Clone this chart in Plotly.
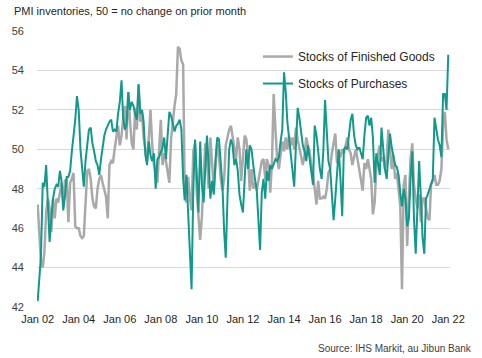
import pandas as pd
import plotly.graph_objects as go

start_month = "2002-01-01"

finished_goods = [
    47.2, 45.8, 44.3, 44.0, 44.8, 46.8, 47.5, 47.0, 45.8, 47.5, 46.5, 47.5,
    47.3, 47.8, 48.3, 47.3, 48.4, 48.5, 46.3, 48.3, 48.5, 48.8, 46.1, 46.0,
    46.0, 45.6, 45.5, 45.6, 47.5, 48.9, 49.0, 48.5, 47.5, 47.1, 47.0, 48.0,
    48.5, 48.7, 48.3, 48.0, 47.6, 46.5, 49.2, 49.4, 49.3, 50.0, 50.6, 51.2,
    50.2, 50.7, 51.5, 52.2, 50.5, 52.9, 51.5, 50.3, 50.0, 52.1, 51.0, 53.3,
    51.4, 51.8, 50.6, 49.9, 49.4, 50.6, 52.0, 50.2, 49.2, 48.8, 48.3, 49.9,
    51.5, 49.2, 49.8, 49.4, 48.9, 48.3, 50.5, 51.5, 52.2, 52.8, 55.2, 55.1,
    54.5, 54.3, 48.0, 47.3, 48.6, 47.5, 46.9, 49.9, 50.3, 47.8, 46.5, 45.4,
    46.6, 48.9, 50.3, 49.5, 48.0, 50.6, 49.0, 48.0, 49.2, 50.3, 49.7, 48.5,
    47.9, 48.5, 50.2, 50.6, 51.0, 51.2, 50.7, 50.0, 49.5, 50.6, 50.0, 48.4,
    49.5, 50.7, 50.5, 49.6, 47.9, 49.0, 48.0, 48.3, 47.9, 48.5, 48.9, 49.4,
    49.5, 48.5, 49.5, 49.2, 47.8, 49.4, 52.8, 51.0, 49.5, 49.0, 49.9, 50.4,
    49.9, 50.6, 50.0, 50.7, 50.2, 50.6, 50.0, 51.1, 50.5, 50.0, 49.5, 49.2,
    49.7, 50.6, 50.2, 49.9, 49.2, 48.7, 48.0, 47.2, 48.4, 47.5, 47.5, 47.6,
    47.5, 48.0, 48.8, 49.0, 49.8, 50.3, 50.8, 49.3, 49.9, 49.6, 50.0, 49.8,
    50.3, 50.6, 50.0, 49.8, 49.2, 49.6, 50.0, 49.5, 49.0, 48.5, 47.9, 49.3,
    49.0, 49.5, 49.1, 48.5, 46.7, 47.3, 49.0, 49.8, 50.2, 49.4, 49.6, 49.0,
    49.5, 51.0, 50.0, 49.0, 49.7, 48.5, 48.8, 48.0, 47.1, 42.9, 48.2, 48.7,
    45.1, 47.5, 49.5, 50.3, 48.2, 47.5, 47.0, 47.7, 46.3, 47.5, 47.5, 47.0,
    46.5, 46.4, 48.2, 48.4, 48.7, 48.2, 48.2, 48.4, 49.0, 51.2, 51.9, 50.5,
    50.0,
]

purchases = [
    42.3, 43.4, 44.6, 48.3, 48.1, 49.2, 47.6, 45.3, 46.5, 47.5, 48.0, 48.2,
    48.1, 48.9, 48.4, 46.9, 47.6, 48.6, 48.6, 48.9, 49.9, 50.6, 51.5, 52.7,
    52.0, 50.0, 49.2, 48.1, 49.4, 50.3, 51.0, 51.1, 50.3, 49.9, 49.4, 49.2,
    48.7, 49.5, 50.2, 50.7, 51.0, 51.2, 51.4, 51.5, 50.9, 51.0, 50.9, 51.8,
    52.4, 53.5, 51.6, 51.0, 51.2, 52.9, 52.0, 52.4, 52.2, 51.8, 51.5, 53.3,
    51.8, 52.0, 51.4, 49.7, 49.2, 50.4, 49.7, 49.4, 49.8, 48.0, 49.5, 49.6,
    49.9, 50.1, 50.6, 49.5, 50.7, 51.9, 51.7, 51.2, 50.9, 51.2, 51.3, 51.5,
    51.0, 48.5, 47.4, 48.7, 46.8, 44.8, 42.9, 48.0, 50.5, 48.7, 46.8, 50.4,
    48.2, 47.3, 48.9, 50.7, 49.2, 47.5, 48.4, 47.7, 49.5, 50.6, 50.5, 49.4,
    48.2, 45.8, 44.5, 47.5, 50.0, 50.5, 50.2, 49.2, 49.5, 48.9, 47.7, 47.2,
    46.8, 48.5, 50.0, 49.0, 50.2, 50.0, 49.2, 48.5, 48.0, 46.2, 44.9, 47.8,
    48.5, 47.5, 48.9, 48.4, 49.2, 49.0, 49.3, 49.5, 49.4, 49.6, 50.4, 51.0,
    53.9, 52.9, 51.4, 50.6, 49.9, 49.2, 48.1, 50.2, 52.1, 51.6, 50.9, 50.2,
    49.9, 49.4, 50.2, 49.5, 48.9, 48.2, 51.2, 50.7, 49.9, 49.0, 48.5, 49.9,
    52.5, 50.5, 49.4, 49.0, 47.8, 46.4, 47.5, 49.0, 50.0, 48.5, 46.6, 50.0,
    50.1, 50.0, 50.6, 51.5, 51.8, 50.7, 50.2, 50.0, 50.1, 49.8, 49.5, 50.7,
    51.6, 51.7, 51.2, 51.6, 50.6, 48.3, 49.8, 49.3, 48.7, 51.1, 49.8, 49.0,
    48.5, 49.6, 50.8, 50.1, 49.6, 49.2, 49.1, 48.7, 47.8, 47.1, 48.0, 47.5,
    46.1, 46.5, 48.5, 49.9, 46.5, 44.7, 47.0, 49.4, 47.5, 45.5, 44.7, 47.5,
    47.7, 48.0, 48.2, 48.5, 51.6, 50.9, 50.5, 50.2, 49.6, 52.8, 52.8, 52.0,
    54.8,
]

y_ticks = [42, 44, 46, 48, 50, 52, 54, 56]

dates = pd.date_range(start_month, periods=len(purchases), freq="MS")

FONT = "Liberation Sans, Arial, sans-serif"
GRAY = "#a9a9a9"
TEAL = "#11998c"

fig = go.Figure()
fig.add_trace(go.Scatter(
    x=dates, y=finished_goods, mode="lines", name="Stocks of Finished Goods",
    line=dict(color=GRAY, width=2.5), legendgroup="a",
))
fig.add_trace(go.Scatter(
    x=dates, y=purchases, mode="lines", name="Stocks of Purchases",
    line=dict(color=TEAL, width=2), legendgroup="b",
))

fig.update_layout(
    width=482, height=358,
    margin=dict(l=30, r=32, t=31, b=51),
    paper_bgcolor="white", plot_bgcolor="white",
    font=dict(family=FONT, size=11, color="#404040"),
    showlegend=True,
    legend=dict(
        x=0.535, y=0.96, xanchor="left", yanchor="top",
        bgcolor="rgba(0,0,0,0)", font=dict(size=12, color="#262626"),
        traceorder="grouped", tracegroupgap=8,
    ),
    xaxis=dict(
        type="date",
        range=["2001-12-20", "2022-02-01"],
        tickformat="%b %y", dtick="M24", tick0="2002-01-01",
        showgrid=False, zeroline=False, showline=False,
        ticks="", tickfont=dict(size=11, color="#262626"),
        ticklabelstandoff=4,
    ),
    yaxis=dict(
        range=[42, 56], tickvals=y_ticks,
        showgrid=True, gridcolor="#d9d9d9", gridwidth=1,
        zeroline=False, showline=False, ticks="",
        tickfont=dict(size=11, color="#404040"),
        ticklabelstandoff=12,
    ),
    annotations=[
        dict(text="PMI inventories, 50 = no change on prior month",
             xref="paper", yref="paper", x=-0.06, y=1.072, xanchor="left", yanchor="middle",
             showarrow=False, font=dict(size=11, color="#262626")),
        dict(text="Source: IHS Markit, au Jibun Bank",
             xref="paper", yref="paper", x=1.057, y=-0.1486, xanchor="right", yanchor="middle",
             showarrow=False, font=dict(size=10, color="#404040")),
    ],
)

fig.write_html("out.html", config={"displayModeBar": False},
               post_script="document.body.style.margin='0px';")
